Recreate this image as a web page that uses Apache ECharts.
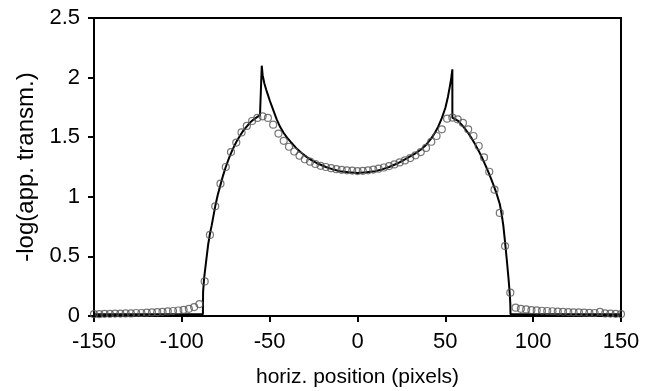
<!DOCTYPE html>
<html><head><meta charset="utf-8">
<script src="https://cdn.jsdelivr.net/npm/echarts@6/dist/echarts.min.js"></script>
<style>html,body{margin:0;padding:0;background:#fff}#c{width:652px;height:391px}</style>
</head><body><div id="c"></div>
<script>
const xTicks = [-150, -100, -50, 0, 50, 100, 150];
const yTicks = [0, 0.5, 1, 1.5, 2, 2.5];
const xTitle = 'horiz. position (pixels)';
const yTitle = '-log(app. transm.)';

// model curve (solid line)
const lineX = [-150, -88, -87.9, -87.3, -86, -85, -84, -83, -82, -81, -79.5, -78, -76.5, -75, -73, -71, -69, -67, -65, -63, -61, -59, -57, -55.5, -54.5,
  -54.5, -54, -53, -52, -51, -50, -48, -46, -44, -42, -40, -38, -35, -32, -29, -26, -22, -18, -14, -10, -5, 0,
  5, 10, 14, 18, 22, 26, 30, 33, 36, 39, 42, 44, 46, 48, 50, 51.5, 52.5, 53.3, 54,
  54, 55, 57, 59, 61, 63, 65, 67, 69, 71, 73, 75, 77, 79, 81, 82, 83, 84, 85, 86, 86.7, 87, 87.1, 150];
const lineY = [0.015, 0.015, 0.2, 0.32, 0.48, 0.6, 0.69, 0.76, 0.84, 0.92, 1.02, 1.10, 1.18, 1.25, 1.33, 1.40, 1.46, 1.51, 1.555, 1.59, 1.625, 1.65, 1.67, 1.685, 1.69,
  2.10, 2.02, 1.95, 1.90, 1.855, 1.81, 1.73, 1.65, 1.585, 1.535, 1.495, 1.46, 1.41, 1.37, 1.335, 1.305, 1.275, 1.25, 1.23, 1.215, 1.205, 1.20,
  1.205, 1.215, 1.23, 1.25, 1.275, 1.305, 1.34, 1.365, 1.395, 1.435, 1.49, 1.535, 1.59, 1.66, 1.745, 1.84, 1.92, 1.99, 2.07,
  1.665, 1.66, 1.64, 1.61, 1.575, 1.535, 1.49, 1.44, 1.385, 1.325, 1.26, 1.19, 1.115, 1.035, 0.94, 0.86, 0.76, 0.62, 0.47, 0.31, 0.18, 0.1, 0.015, 0.015];

// measured points (open circles)
const circleX = [-150, -147, -144, -141, -138, -135, -132, -129, -126, -123, -120, -117, -114, -111, -108, -105, -102, -99, -96, -93,
  -90, -87, -84, -81, -78, -75, -72, -69, -66, -63, -60, -57, -54, -51, -48, -45, -42, -39, -36, -33, -30, -27, -24, -21, -18, -15, -12, -9, -6, -3,
  0, 3, 6, 9, 12, 15, 18, 21, 24, 27, 30, 33, 36, 39, 42, 45, 48, 51, 54, 57, 60, 63, 66, 69, 72, 75, 78, 81, 84, 87, 90,
  93, 96, 99, 102, 105, 108, 111, 114, 117, 120, 123, 126, 129, 132, 135, 138, 141, 144, 147, 150];
const circleY = [0.015, 0.015, 0.018, 0.018, 0.02, 0.02, 0.022, 0.022, 0.025, 0.025, 0.028, 0.03, 0.032, 0.035, 0.038, 0.042, 0.046, 0.052, 0.06, 0.075,
  0.10, 0.29, 0.68, 0.92, 1.11, 1.25, 1.375, 1.455, 1.54, 1.595, 1.636, 1.662, 1.675, 1.662, 1.605, 1.53, 1.47, 1.42, 1.38, 1.345, 1.315, 1.295, 1.275, 1.26, 1.25, 1.24, 1.232, 1.226, 1.222, 1.22,
  1.216, 1.218, 1.222, 1.228, 1.236, 1.246, 1.258, 1.272, 1.288, 1.305, 1.325, 1.348, 1.375, 1.41, 1.462, 1.51, 1.566, 1.655, 1.665, 1.65, 1.62, 1.566, 1.51, 1.426, 1.33, 1.21, 1.06, 0.865, 0.587, 0.196, 0.07,
  0.06, 0.055, 0.05, 0.047, 0.044, 0.042, 0.04, 0.037, 0.035, 0.033, 0.031, 0.03, 0.028, 0.026, 0.025, 0.035, 0.022, 0.02, 0.018, 0.016];

const FONT = '"Liberation Sans", Arial, sans-serif';
const chart = echarts.init(document.getElementById('c'), null, {renderer: 'canvas'});
const axisCommon = {
  axisLine: {show: true, onZero: false, lineStyle: {color: '#000', width: 2}},
  axisTick: {show: true, inside: false, length: 6, lineStyle: {color: '#000', width: 2}},
  splitLine: {show: false},
  nameLocation: 'middle'
};
chart.setOption({
  animation: false,
  backgroundColor: '#fff',
  grid: {left: 94, right: 31, top: 18, bottom: 75, show: true, borderColor: '#000', borderWidth: 2, containLabel: false, outerBoundsMode: 'none'},
  xAxis: Object.assign({}, axisCommon, {
    type: 'value', min: xTicks[0], max: xTicks[xTicks.length - 1], interval: xTicks[1] - xTicks[0],
    name: xTitle, nameGap: 51,
    nameTextStyle: {color: '#000', fontSize: 21, fontFamily: FONT},
    axisLabel: {color: '#000', fontSize: 22, fontFamily: FONT, margin: 15}
  }),
  yAxis: Object.assign({}, axisCommon, {
    type: 'value', min: yTicks[0], max: yTicks[yTicks.length - 1], interval: yTicks[1] - yTicks[0],
    name: yTitle, nameGap: 56,
    nameTextStyle: {color: '#000', fontSize: 24, fontFamily: FONT},
    axisLabel: {color: '#000', fontSize: 22, fontFamily: FONT, margin: 14}
  }),
  series: [
    {
      type: 'line', data: lineX.map((x, i) => [x, lineY[i]]), showSymbol: false,
      lineStyle: {color: '#000', width: 2}, z: 2
    },
    {
      type: 'scatter', data: circleX.map((x, i) => [x, circleY[i]]), symbol: 'circle', symbolSize: 7,
      itemStyle: {color: 'rgba(255,255,255,0)', borderColor: '#555', borderWidth: 1.2}, z: 3
    }
  ]
});
</script>
</body></html>
